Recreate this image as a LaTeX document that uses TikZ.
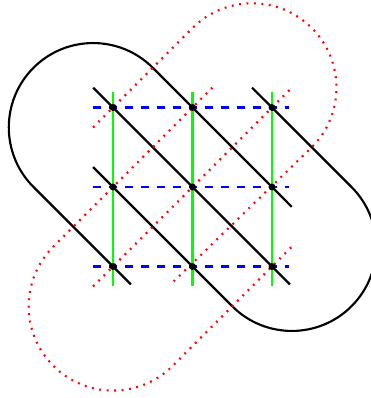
\documentclass[tikz,border=0pt]{standalone}
\usepackage{amsmath,amssymb}
\usetikzlibrary{positioning, calc}

\begin{document}
\begin{tikzpicture}[scale=1.05, thick,
    over/.style={black},
    under/.style={red, line width=0.8pt, dash pattern=on 0.7pt off 2.1pt},
    vert/.style={green},
    horiz/.style={blue, dash pattern=on 3pt off 3pt},
    crossing/.style={circle, fill=black, minimum size=2.6pt, inner sep=0pt}]
  \useasboundingbox (-1.4214,-1.6541) rectangle (3.2453,3.3522);
  \clip (-1.4214,-1.6541) rectangle (3.2453,3.3522);
  % black strands
  \draw[over] (-0.25,2.25) -- (2.225,-0.225);
  \draw[over] (-0.25,1.25) -- (1.5,-0.5) arc (-135:45:1.0607) -- (1.75,2.25);
  \draw[over] (0.225,-0.225) -- (-1,1) arc (225:45:1.0607) -- (2.25,0.75);
  % grid
  \foreach \i in {0,1,2} {
    \draw[vert] (\i,-0.25) -- (\i,2.2);
    \draw[horiz] (-0.25,\i) -- (2.22,\i);
  }
  % red strands
  \draw[under] (-0.25,1.75) -- (1,3) arc (135:-45:1.0607) -- (0.725,-0.225);
  \draw[under] (-0.25,-0.25) -- (2.25,2.25);
  \draw[under] (1.25,2.25) -- (-0.75,0.25) arc (135:315:1.0607) -- (2.25,0.25);
  \foreach \i in {0,1,2} {
    \foreach \j in {0,1,2} {
      \node[crossing] (p\i\j) at (\i,\j) {};
    }
  }
\end{tikzpicture}
\end{document}
